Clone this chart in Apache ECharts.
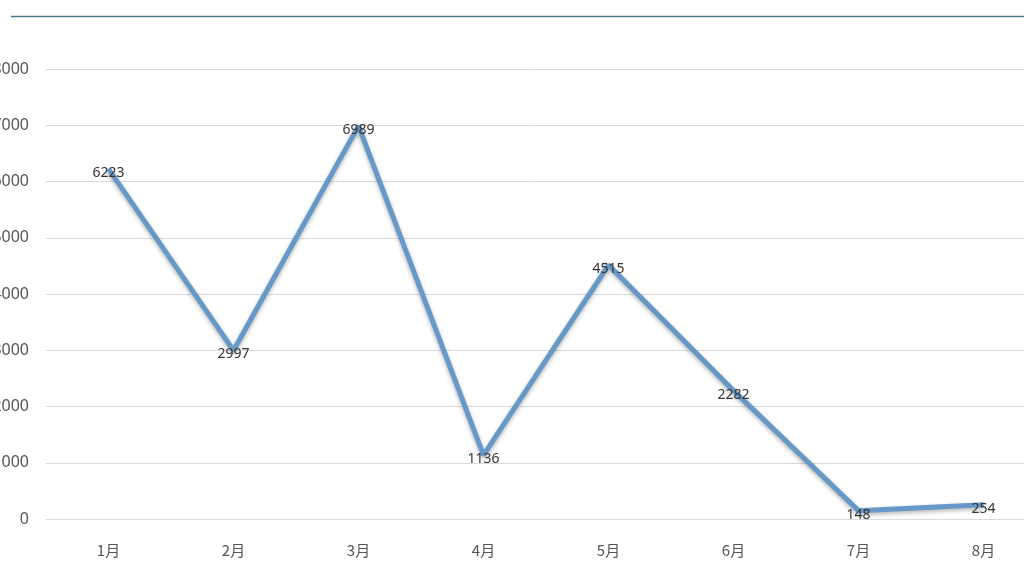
<!DOCTYPE html>
<html>
<head>
<meta charset="utf-8">
<script src="https://cdn.jsdelivr.net/npm/echarts@6/dist/echarts.min.js"></script>
<style>
  html, body { margin: 0; padding: 0; background: #fff; }
  #main { width: 1024px; height: 576px; }
</style>
</head>
<body>
<div id="main"></div>
<script>
// 数据
var months = ['1月', '2月', '3月', '4月', '5月', '6月', '7月', '8月'];
var values = [6223, 2997, 6989, 1136, 4515, 2282, 148, 254];
var yTicks = [0, 1000, 2000, 3000, 4000, 5000, 6000, 7000, 8000];

var myChart = echarts.init(document.getElementById('main'));

var option = {
    animation: false,
    backgroundColor: '#fff',
    grid: {
        left: 46,
        top: 69,
        width: 1000,
        height: 450,
        containLabel: false,
        outerBoundsMode: 'none'
    },
    graphic: [
        {
            type: 'line',
            shape: { x1: 11, y1: 16.5, x2: 1024, y2: 16.5 },
            style: { stroke: '#4a7890', lineWidth: 1.3 }
        }
    ],
    xAxis: {
        type: 'category',
        data: months,
        axisLine: { show: false },
        axisTick: { show: false },
        axisLabel: {
            margin: 24,
            fontSize: 15,
            color: '#555',
            fontFamily: 'Noto Sans CJK SC'
        }
    },
    yAxis: {
        type: 'value',
        min: yTicks[0],
        max: yTicks[yTicks.length - 1],
        interval: 1000,
        axisLine: { show: false },
        axisTick: { show: false },
        splitLine: { lineStyle: { color: '#d9d9d9', width: 1 } },
        axisLabel: {
            margin: 17,
            fontSize: 16,
            color: '#555',
            fontFamily: 'Noto Sans',
            formatter: function (v) { return String(v); }
        }
    },
    series: [
        {
            type: 'line',
            data: values,
            symbol: 'circle',
            symbolSize: 2,
            itemStyle: { color: 'rgba(0,0,0,0)', borderWidth: 0 },
            lineStyle: {
                color: '#6699c8',
                width: 5,
                shadowColor: 'rgba(0,0,0,0.3)',
                shadowBlur: 4,
                shadowOffsetY: 2
            },
            label: {
                show: true,
                position: 'inside',
                offset: [0, 4],
                fontSize: 14,
                color: '#333',
                fontFamily: 'Noto Sans'
            }
        }
    ]
};

myChart.setOption(option);
</script>
</body>
</html>
